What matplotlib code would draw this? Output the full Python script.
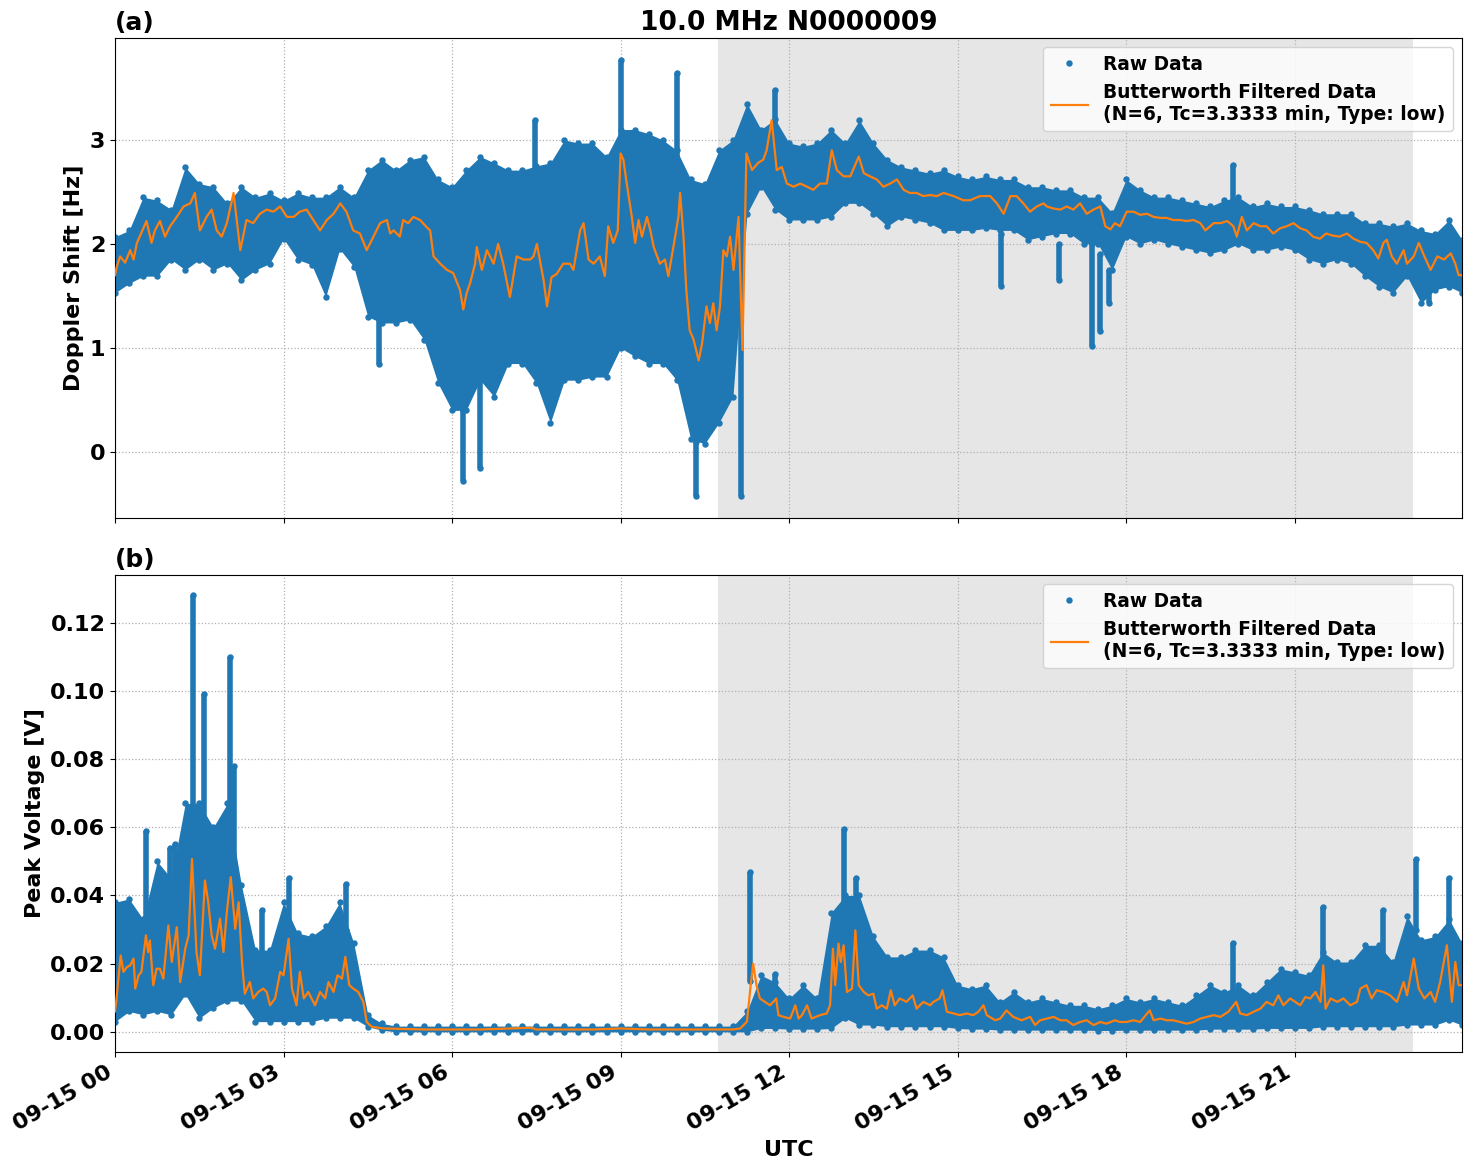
import numpy as np
import matplotlib
matplotlib.use('Agg')
import matplotlib.pyplot as plt
import matplotlib.dates as mdates
from matplotlib.ticker import FormatStrFormatter

plt.rcParams['font.weight'] = 'bold'
plt.rcParams['axes.labelweight'] = 'bold'
plt.rcParams['axes.titleweight'] = 'bold'

# hours after 2024-09-15 00:00 UTC, 15 min steps
hours = list(np.arange(0, 24, 0.25)) + [23.98]

# ---- (a) Doppler shift [Hz]: raw data envelope
dop_hi = [2.07, 2.13, 2.45, 2.42, 2.33, 2.74, 2.58, 2.55, 2.39, 2.55, 2.45, 2.49,
          2.42, 2.49, 2.45, 2.45, 2.55, 2.45, 2.71, 2.81, 2.71, 2.81, 2.84, 2.62,
          2.55, 2.71, 2.84, 2.78, 2.71, 2.71, 2.75, 2.78, 3.00, 2.97, 2.97, 2.84,
          3.10, 3.10, 3.06, 3.00, 2.90, 2.62, 2.58, 2.90, 3.00, 3.35, 3.10, 3.20,
          2.97, 2.94, 2.97, 3.10, 2.97, 3.19, 2.97, 2.81, 2.74, 2.71, 2.68, 2.71,
          2.65, 2.62, 2.65, 2.62, 2.62, 2.55, 2.55, 2.52, 2.52, 2.45, 2.45, 2.30,
          2.62, 2.52, 2.45, 2.45, 2.42, 2.39, 2.36, 2.42, 2.45, 2.36, 2.39, 2.36,
          2.36, 2.33, 2.29, 2.29, 2.29, 2.20, 2.20, 2.17, 2.20, 2.13, 2.10, 2.23,
          2.04]
dop_lo = [1.53, 1.62, 1.69, 1.69, 1.85, 1.75, 1.85, 1.75, 1.81, 1.65, 1.75, 1.81,
          2.05, 1.85, 1.80, 1.49, 1.95, 1.78, 1.30, 1.24, 1.24, 1.27, 1.08, 0.66,
          0.40, 0.40, 0.69, 0.53, 0.85, 0.85, 0.66, 0.28, 0.69, 0.69, 0.72, 0.72,
          1.00, 0.92, 0.85, 0.85, 0.69, 0.12, 0.08, 0.28, 0.53, 2.29, 2.55, 2.33,
          2.23, 2.23, 2.23, 2.26, 2.39, 2.39, 2.29, 2.17, 2.26, 2.23, 2.20, 2.13,
          2.13, 2.13, 2.15, 2.13, 2.13, 2.04, 2.07, 2.10, 2.10, 2.00, 2.00, 1.75,
          2.07, 2.00, 2.04, 2.00, 1.97, 1.94, 1.91, 1.94, 2.00, 1.94, 1.94, 1.97,
          1.94, 1.85, 1.81, 1.85, 1.81, 1.69, 1.59, 1.53, 1.69, 1.43, 1.56, 1.59,
          1.53]
# isolated raw-data columns (outliers)
dop_spk_t = [4.70, 6.20, 6.50, 7.48, 9.00, 10.00, 10.35, 11.15, 11.75, 15.78,
             16.81, 17.39, 17.53, 17.70, 19.90, 23.40]
dop_spk_lo = [0.85, -0.28, -0.15, 2.70, 2.90, 2.60, -0.42, -0.42, 3.10, 1.60,
              1.65, 1.02, 1.16, 1.43, 2.40, 1.43]
dop_spk_hi = [1.30, 0.40, 0.70, 3.19, 3.77, 3.64, 0.10, 2.30, 3.48, 2.10,
              2.00, 2.00, 1.90, 1.75, 2.76, 1.60]

# Butterworth filtered Doppler trace
dop_filt_t = [0.00, 0.03, 0.09, 0.18, 0.27, 0.33, 0.39, 0.56, 0.65, 0.71, 0.80, 0.89,
              0.98, 1.10, 1.22, 1.34, 1.42, 1.51, 1.63, 1.72, 1.81, 1.90, 1.99, 2.11,
              2.23, 2.34, 2.46, 2.58, 2.70, 2.82, 2.94, 3.06, 3.18, 3.29, 3.41, 3.53,
              3.65, 3.77, 3.89, 4.01, 4.12, 4.24, 4.36, 4.48, 4.60, 4.72, 4.84, 4.90,
              4.96, 5.07, 5.13, 5.22, 5.31, 5.43, 5.55, 5.61, 5.67, 5.79, 5.91, 6.02,
              6.14, 6.20, 6.26, 6.32, 6.41, 6.44, 6.53, 6.62, 6.74, 6.82, 6.91, 7.03,
              7.15, 7.27, 7.39, 7.45, 7.51, 7.63, 7.69, 7.77, 7.86, 7.98, 8.10, 8.16,
              8.28, 8.34, 8.43, 8.52, 8.63, 8.72, 8.78, 8.87, 8.95, 9.00, 9.05, 9.11,
              9.20, 9.26, 9.32, 9.38, 9.47, 9.53, 9.59, 9.70, 9.79, 9.85, 9.94, 10.03,
              10.06, 10.12, 10.17, 10.23, 10.30, 10.39, 10.45, 10.53, 10.59, 10.65,
              10.71, 10.77, 10.83, 10.89, 10.95, 11.01, 11.10, 11.17, 11.24, 11.34,
              11.45, 11.54, 11.60, 11.69, 11.78, 11.87, 11.96, 12.08, 12.20, 12.32,
              12.43, 12.55, 12.67, 12.76, 12.85, 12.97, 13.09, 13.24, 13.33, 13.44,
              13.56, 13.68, 13.80, 13.92, 14.04, 14.15, 14.27, 14.39, 14.51, 14.63,
              14.75, 14.93, 15.10, 15.22, 15.40, 15.58, 15.70, 15.82, 15.94, 16.05,
              16.17, 16.29, 16.41, 16.53, 16.59, 16.71, 16.83, 16.94, 17.06, 17.18,
              17.30, 17.42, 17.54, 17.63, 17.72, 17.80, 17.89, 18.01, 18.13, 18.25,
              18.37, 18.49, 18.61, 18.72, 18.84, 18.96, 19.08, 19.20, 19.32, 19.41,
              19.56, 19.68, 19.80, 19.91, 19.97, 20.06, 20.15, 20.27, 20.39, 20.50,
              20.62, 20.74, 20.86, 20.98, 21.10, 21.21, 21.33, 21.45, 21.56, 21.68,
              21.80, 21.93, 22.05, 22.17, 22.28, 22.40, 22.49, 22.58, 22.64, 22.73,
              22.82, 22.94, 23.00, 23.12, 23.21, 23.31, 23.42, 23.54, 23.66, 23.78,
              23.86, 23.92, 23.98]
dop_filt_v = [1.70, 1.78, 1.88, 1.82, 1.94, 1.85, 2.01, 2.22, 2.01, 2.13, 2.22, 2.07,
              2.17, 2.26, 2.36, 2.39, 2.49, 2.13, 2.26, 2.33, 2.13, 2.07, 2.20, 2.49,
              1.94, 2.23, 2.20, 2.29, 2.33, 2.31, 2.36, 2.26, 2.26, 2.31, 2.33, 2.23,
              2.13, 2.23, 2.29, 2.39, 2.31, 2.13, 2.10, 1.94, 2.07, 2.20, 2.23, 2.10,
              2.13, 2.07, 2.23, 2.20, 2.26, 2.23, 2.16, 2.13, 1.88, 1.81, 1.75, 1.72,
              1.56, 1.37, 1.53, 1.62, 1.81, 1.97, 1.75, 1.94, 1.81, 2.00, 1.81, 1.49,
              1.88, 1.85, 1.85, 1.88, 2.00, 1.65, 1.40, 1.68, 1.71, 1.81, 1.81, 1.75,
              2.13, 2.20, 1.85, 1.81, 1.88, 1.69, 2.17, 2.01, 2.13, 2.87, 2.81, 2.58,
              2.26, 2.01, 2.23, 2.07, 2.26, 2.13, 1.97, 1.81, 1.85, 1.69, 1.97, 2.26,
              2.49, 2.07, 1.56, 1.17, 1.08, 0.88, 1.04, 1.40, 1.24, 1.43,
              1.17, 1.40, 1.94, 1.88, 2.07, 1.75, 2.26, 0.98, 2.87, 2.71,
              2.78, 2.81, 2.90, 3.19, 2.71, 2.74, 2.58, 2.55, 2.58, 2.55,
              2.52, 2.58, 2.58, 2.90, 2.71, 2.65, 2.65, 2.84, 2.68, 2.65,
              2.62, 2.55, 2.58, 2.62, 2.52, 2.49, 2.49, 2.46, 2.47, 2.46,
              2.49, 2.46, 2.42, 2.42, 2.46, 2.46, 2.39, 2.29, 2.46, 2.46,
              2.39, 2.31, 2.36, 2.39, 2.36, 2.34, 2.33, 2.36, 2.33, 2.39,
              2.29, 2.33, 2.36, 2.17, 2.14, 2.20, 2.17, 2.31, 2.31, 2.28,
              2.29, 2.26, 2.25, 2.25, 2.23, 2.23, 2.22, 2.23, 2.20, 2.13,
              2.20, 2.20, 2.22, 2.17, 2.07, 2.26, 2.13, 2.20, 2.17, 2.17,
              2.10, 2.15, 2.17, 2.20, 2.15, 2.13, 2.07, 2.05, 2.10, 2.08,
              2.07, 2.10, 2.05, 2.02, 2.01, 1.94, 1.86, 2.01, 2.04, 1.88,
              1.81, 1.94, 1.81, 1.88, 2.01, 1.88, 1.75, 1.88, 1.85, 1.91,
              1.81, 1.70, 1.70]

# ---- (b) Peak voltage [V]: raw data envelope
volt_hi = ([0.038, 0.039, 0.033, 0.050, 0.045, 0.067, 0.067, 0.060, 0.067, 0.043,
            0.024, 0.024, 0.038, 0.029, 0.028, 0.031, 0.038, 0.026, 0.005, 0.0025]
           + [0.0017] * 25 +
           [0.006, 0.0166, 0.0146, 0.0098, 0.0137, 0.0098, 0.035, 0.040, 0.040,
            0.028, 0.022, 0.022, 0.024, 0.024, 0.022, 0.0137, 0.0127, 0.0137, 0.0088,
            0.0117, 0.0088, 0.0098, 0.0088, 0.0078, 0.0078, 0.0068, 0.0078, 0.0098,
            0.0088, 0.0098, 0.0088, 0.0078, 0.0107, 0.0137, 0.0117, 0.0137, 0.0107,
            0.0146, 0.0185, 0.0176, 0.0166, 0.0234, 0.0205, 0.0205, 0.0254, 0.0254,
            0.0205, 0.034, 0.027, 0.028, 0.033, 0.026])
volt_lo = ([0.003, 0.006, 0.005, 0.006, 0.005, 0.011, 0.004, 0.007, 0.009, 0.009,
            0.003, 0.003, 0.003, 0.003, 0.003, 0.004, 0.004, 0.004, 0.0015, 0.0005]
           + [0.0] * 25 +
           [0.0, 0.001, 0.001, 0.0008, 0.0008, 0.0008, 0.001, 0.004, 0.002,
            0.002, 0.0015, 0.0015, 0.0015, 0.0015, 0.0015, 0.001, 0.0008, 0.0008, 0.0005,
            0.0005, 0.0005, 0.0005, 0.0005, 0.0005, 0.0005, 0.0004, 0.0004, 0.0005,
            0.0005, 0.0005, 0.0005, 0.0005, 0.0005, 0.0008, 0.0008, 0.0008, 0.0008,
            0.001, 0.001, 0.001, 0.001, 0.0015, 0.0015, 0.0015, 0.0015, 0.0015,
            0.0015, 0.002, 0.002, 0.002, 0.0034, 0.002])
volt_spk_t = [0.55, 0.98, 1.07, 1.38, 1.58, 2.05, 2.12, 2.61, 3.09, 4.12,
              11.30, 11.75, 12.97, 13.19, 19.90, 21.50, 22.58, 23.16, 23.74]
volt_spk_lo = [0.030, 0.035, 0.040, 0.060, 0.060, 0.060, 0.045, 0.020, 0.030, 0.030,
               0.015, 0.012, 0.035, 0.030, 0.010, 0.020, 0.020, 0.030, 0.030]
volt_spk_hi = [0.059, 0.054, 0.055, 0.128, 0.099, 0.110, 0.078, 0.0356, 0.045, 0.0434,
               0.047, 0.017, 0.0595, 0.045, 0.026, 0.0366, 0.0356, 0.0507, 0.045]

# Butterworth filtered voltage trace
volt_filt_t = [0.00, 0.02, 0.06, 0.10, 0.15, 0.21, 0.27, 0.33, 0.36, 0.42, 0.47, 0.55,
               0.59, 0.62, 0.68, 0.74, 0.80, 0.86, 0.95, 1.01, 1.10, 1.16, 1.25, 1.31,
               1.37, 1.45, 1.51, 1.60, 1.66, 1.72, 1.78, 1.87, 1.93, 1.99, 2.06, 2.14,
               2.20, 2.26, 2.31, 2.40, 2.46, 2.55, 2.64, 2.70, 2.76, 2.85, 2.94, 3.00,
               3.09, 3.15, 3.23, 3.29, 3.36, 3.44, 3.56, 3.65, 3.74, 3.80, 3.89, 3.96,
               4.04, 4.10, 4.17, 4.24, 4.33, 4.42, 4.48, 4.57, 4.78, 5.50, 6.50, 7.40,
               7.50, 8.50, 9.00, 9.50, 10.50, 11.00, 11.13, 11.25, 11.31, 11.36, 11.42,
               11.48, 11.57, 11.66, 11.72, 11.77, 11.81, 11.90, 12.02, 12.11, 12.17,
               12.23, 12.32, 12.40, 12.55, 12.67, 12.73, 12.78, 12.82, 12.88, 12.92,
               12.97, 13.03, 13.12, 13.18, 13.24, 13.33, 13.41, 13.50, 13.56, 13.65,
               13.74, 13.81, 13.88, 13.97, 14.09, 14.20, 14.27, 14.39, 14.51, 14.57,
               14.68, 14.73, 14.81, 14.93, 15.04, 15.16, 15.28, 15.37, 15.46, 15.52,
               15.67, 15.76, 15.87, 15.99, 16.14, 16.29, 16.38, 16.47, 16.59, 16.71,
               16.83, 16.94, 17.06, 17.18, 17.30, 17.42, 17.54, 17.65, 17.80, 17.89,
               18.01, 18.13, 18.25, 18.42, 18.49, 18.61, 18.72, 18.84, 18.96, 19.08,
               19.20, 19.32, 19.44, 19.56, 19.68, 19.82, 19.96, 20.03, 20.15, 20.27,
               20.39, 20.50, 20.62, 20.71, 20.80, 20.92, 21.01, 21.10, 21.19, 21.28,
               21.37, 21.46, 21.51, 21.55, 21.64, 21.76, 21.87, 21.99, 22.11, 22.17,
               22.28, 22.37, 22.46, 22.58, 22.70, 22.82, 22.94, 23.00, 23.12, 23.21,
               23.31, 23.42, 23.50, 23.59, 23.71, 23.80, 23.86, 23.92, 23.98]
volt_filt_v = [0.0060, 0.0088, 0.0156, 0.0224, 0.0176, 0.0190, 0.0195, 0.0215, 0.0127,
               0.0166, 0.0176, 0.0283, 0.0234, 0.0268, 0.0137, 0.0185, 0.0185, 0.0156,
               0.0312, 0.0205, 0.0307, 0.0146, 0.0244, 0.0283, 0.0507, 0.0234, 0.0166,
               0.0444, 0.0380, 0.0283, 0.0244, 0.0332, 0.0234, 0.0351, 0.0454, 0.0302,
               0.0380, 0.0205, 0.0112, 0.0146, 0.0098, 0.0117, 0.0127, 0.0117, 0.0078,
               0.0098, 0.0176, 0.0166, 0.0273, 0.0127, 0.0078, 0.0176, 0.0098, 0.0117,
               0.0078, 0.0117, 0.0098, 0.0146, 0.0117, 0.0166, 0.0156, 0.0220, 0.0137,
               0.0127, 0.0117, 0.0088, 0.0029, 0.0015, 0.0010, 0.0007, 0.0007, 0.0012,
               0.0007, 0.0007, 0.0010, 0.0007, 0.0007, 0.0007, 0.0010, 0.0030, 0.0127,
               0.0200, 0.0137, 0.0098, 0.0088, 0.0078, 0.0088, 0.0098, 0.0049, 0.0044,
               0.0039, 0.0078, 0.0039, 0.0049, 0.0078, 0.0039, 0.0049, 0.0054, 0.0078,
               0.0244, 0.0137, 0.0259, 0.0205, 0.0254, 0.0117, 0.0127, 0.0298, 0.0137,
               0.0117, 0.0107, 0.0112, 0.0068, 0.0078, 0.0068, 0.0122, 0.0078, 0.0098,
               0.0088, 0.0107, 0.0068, 0.0088, 0.0078, 0.0088, 0.0098, 0.0122, 0.0059,
               0.0054, 0.0049, 0.0054, 0.0049, 0.0059, 0.0078, 0.0049, 0.0034, 0.0039,
               0.0063, 0.0044, 0.0034, 0.0044, 0.0020, 0.0034, 0.0039, 0.0044,
               0.0034, 0.0034, 0.0020, 0.0029, 0.0034, 0.0020, 0.0029, 0.0024, 0.0034,
               0.0029, 0.0029, 0.0034, 0.0029, 0.0063, 0.0034, 0.0039, 0.0034, 0.0034,
               0.0029, 0.0024, 0.0029, 0.0039, 0.0044, 0.0049, 0.0044, 0.0059, 0.0088,
               0.0054, 0.0049, 0.0059, 0.0068, 0.0088, 0.0078, 0.0107, 0.0078, 0.0098,
               0.0088, 0.0078, 0.0102, 0.0098, 0.0117, 0.0088, 0.0195, 0.0068, 0.0098,
               0.0088, 0.0098, 0.0078, 0.0088, 0.0127, 0.0137, 0.0098, 0.0122, 0.0117,
               0.0107, 0.0088, 0.0146, 0.0107, 0.0215, 0.0127, 0.0098, 0.0117, 0.0088,
               0.0146, 0.0254, 0.0088, 0.0205, 0.0137, 0.0137]

shade_start, shade_end = 10.74, 23.10

BASE = np.datetime64('2024-09-15T00:00:00')


def to_dt(h):
    return BASE + (np.asarray(h) * 3600).round().astype('int64').astype('timedelta64[s]')


filt_label = 'Butterworth Filtered Data\n(N=6, Tc=3.3333 min, Type: low)'


def draw_panel(ax, hi, lo, spk_t, spk_lo, spk_hi, ft, fv):
    t = to_dt(hours)
    ax.axvspan(to_dt(shade_start), to_dt(shade_end), color='#e6e6e6', zorder=0, lw=0)
    ax.fill_between(t, lo, hi, color='C0', lw=0, zorder=2)
    ax.plot(t, hi, 'o', color='C0', ms=3.6, zorder=2, label='Raw Data')
    ax.plot(t, lo, 'o', color='C0', ms=3.6, zorder=2)
    ax.vlines(to_dt(spk_t), spk_lo, spk_hi, color='C0', lw=4, zorder=2)
    ax.plot(to_dt(spk_t), spk_hi, 'o', color='C0', ms=3.6, zorder=2)
    ax.plot(to_dt(spk_t), spk_lo, 'o', color='C0', ms=3.6, zorder=2)
    ax.plot(to_dt(ft), fv, color='C1', lw=1.6, zorder=3, label=filt_label)
    ax.set_xlim(to_dt(hours[0]), to_dt(hours[-1]))
    ax.set_axisbelow(True)
    ax.grid(True, linestyle=':', color='#b0b0b0', lw=0.9)
    ax.tick_params(labelsize=16)
    ax.legend(loc='upper right', fontsize=13.4)


fig = plt.figure(figsize=(14.71, 11.72), dpi=100)
ax1 = fig.add_axes([0.0782, 0.558, 0.9157, 0.4096])
ax2 = fig.add_axes([0.0782, 0.1024, 0.9157, 0.4070], sharex=ax1)

draw_panel(ax1, dop_hi, dop_lo, dop_spk_t, dop_spk_lo, dop_spk_hi, dop_filt_t, dop_filt_v)
draw_panel(ax2, volt_hi, volt_lo, volt_spk_t, volt_spk_lo, volt_spk_hi, volt_filt_t, volt_filt_v)

ax1.set_ylim(-0.635, 3.98)
ax1.set_yticks([0, 1, 2, 3])
ax2.set_ylim(-0.0059, 0.134)
ax2.set_yticks(np.arange(0, 0.121, 0.02))
ax2.yaxis.set_major_formatter(FormatStrFormatter('%.2f'))

ax1.set_ylabel('Doppler Shift [Hz]', fontsize=16)
ax2.set_ylabel('Peak Voltage [V]', fontsize=16)
ax2.set_xlabel('UTC', fontsize=16)
ax1.set_title('10.0 MHz N0000009', fontsize=19)
ax1.set_title('(a)', loc='left', fontsize=18)
ax2.set_title('(b)', loc='left', fontsize=18)

ax2.xaxis.set_major_locator(mdates.HourLocator(byhour=range(0, 24, 3)))
ax2.xaxis.set_major_formatter(mdates.DateFormatter('%m-%d %H'))
plt.setp(ax1.get_xticklabels(), visible=False)
plt.setp(ax2.get_xticklabels(), rotation=30, ha='right')

fig.savefig('out.png', dpi=100)
